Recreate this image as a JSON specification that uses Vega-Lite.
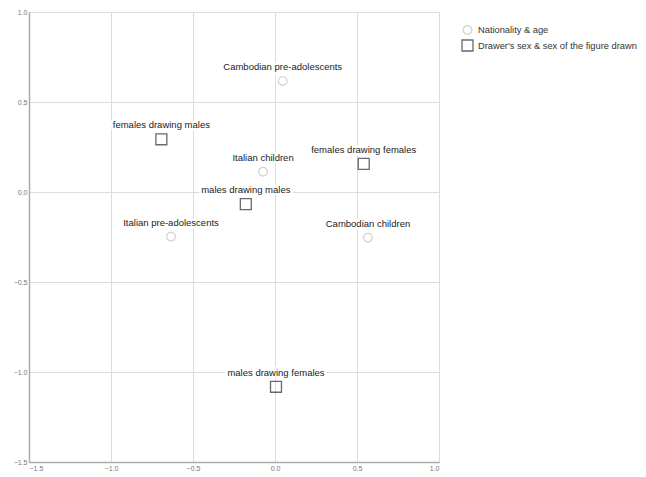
{
  "$schema": "https://vega.github.io/schema/vega-lite/v6.json",
  "autosize": {"type": "none"},
  "padding": {"left": 29, "top": 12, "right": 207, "bottom": 15},
  "width": 410,
  "height": 450,
  "background": "white",
  "config": {
    "font": "Liberation Sans",
    "view": {"stroke": null},
    "axis": {
      "labelFont": "Liberation Sans",
      "labelFontSize": 7,
      "labelColor": "#777",
      "domainColor": "#aaa",
      "domainWidth": 1.5,
      "gridColor": "#dcdcdc",
      "gridWidth": 1,
      "ticks": false,
      "title": null
    }
  },
  "data": {
    "values": [
      {"label": "Cambodian pre-adolescents", "x": 0.047, "y": 0.617, "group": "Nationality & age"},
      {"label": "Italian children", "x": -0.073, "y": 0.113, "group": "Nationality & age"},
      {"label": "Italian pre-adolescents", "x": -0.634, "y": -0.248, "group": "Nationality & age"},
      {"label": "Cambodian children", "x": 0.567, "y": -0.254, "group": "Nationality & age"},
      {"label": "females drawing males", "x": -0.693, "y": 0.293, "group": "Drawer's sex & sex of the figure drawn"},
      {"label": "females drawing females", "x": 0.541, "y": 0.156, "group": "Drawer's sex & sex of the figure drawn"},
      {"label": "males drawing males", "x": -0.178, "y": -0.067, "group": "Drawer's sex & sex of the figure drawn"},
      {"label": "males drawing females", "x": 0.006, "y": -1.082, "group": "Drawer's sex & sex of the figure drawn"}
    ]
  },
  "encoding": {
    "x": {"field": "x", "type": "quantitative", "scale": {"domain": [-1.5, 1.0], "nice": false, "zero": false},
          "axis": {"values": [-1.5, -1.0, -0.5, 0.0, 0.5, 1.0], "format": ".1f", "labelPadding": 2}},
    "y": {"field": "y", "type": "quantitative", "scale": {"domain": [-1.5, 1.0], "nice": false, "zero": false},
          "axis": {"values": [-1.5, -1.0, -0.5, 0.0, 0.5, 1.0], "format": ".1f", "labelPadding": 2}}
  },
  "layer": [
    {
      "mark": {"type": "text", "dy": -14, "fontSize": 9.5, "stroke": "white", "strokeWidth": 5, "strokeJoin": "round", "fill": "white"},
      "encoding": {"text": {"field": "label"}}
    },
    {
      "mark": {"type": "text", "dy": -14, "fontSize": 9.5, "fill": "#222"},
      "encoding": {"text": {"field": "label"}}
    },
    {
      "mark": {"type": "point", "filled": false, "strokeWidth": 1.3},
      "encoding": {
        "shape": {"field": "group", "type": "nominal",
          "scale": {"domain": ["Nationality & age", "Drawer's sex & sex of the figure drawn"], "range": ["circle", "square"]},
          "legend": {"title": null, "orient": "none", "legendX": 432, "legendY": 13, "labelFontSize": 9.3, "labelColor": "#333", "rowPadding": 0, "labelOffset": 4, "symbolStrokeWidth": 1.3}},
        "color": {"field": "group", "type": "nominal",
          "scale": {"domain": ["Nationality & age", "Drawer's sex & sex of the figure drawn"], "range": ["#c4c4c4", "#2a2a2a"]}},
        "size": {"field": "group", "type": "nominal",
          "scale": {"domain": ["Nationality & age", "Drawer's sex & sex of the figure drawn"], "range": [75, 120]}}
      }
    }
  ]
}
